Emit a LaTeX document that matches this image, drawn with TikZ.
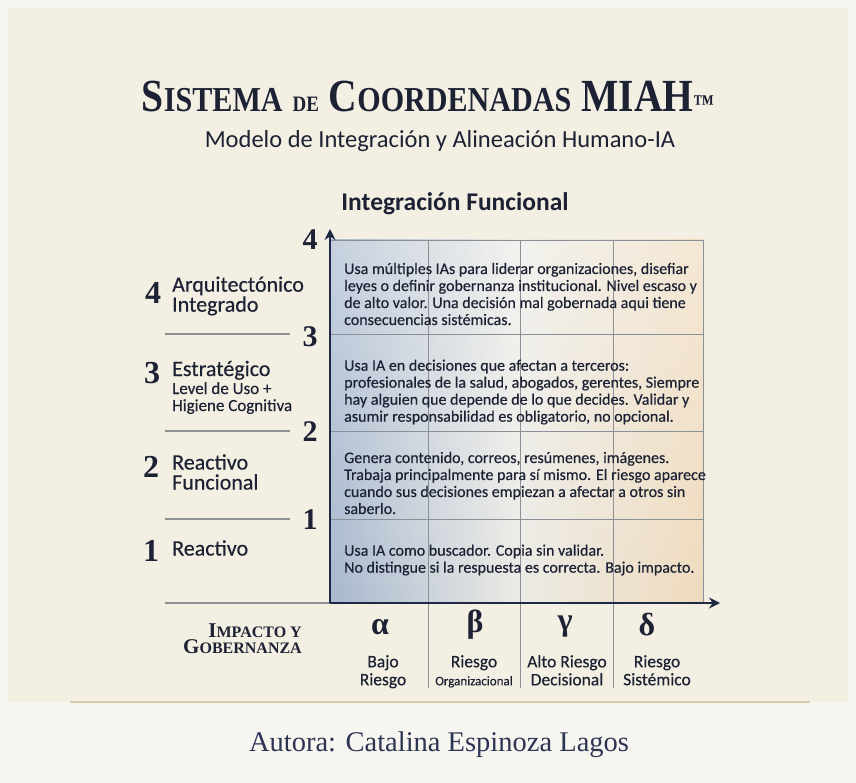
\documentclass[tikz,border=0pt]{standalone}
\usepackage{fontspec}
\setmainfont{Liberation Serif}
\newfontfamily\titleserif[FakeStretch=0.86]{Liberation Serif}
\newfontfamily\sansfont{Carlito}
\newfontfamily\cellfont[FakeBold=0.4]{Carlito}
\usetikzlibrary{arrows.meta,fadings}

\definecolor{paper}{HTML}{F4EFE3}
\definecolor{footpaper}{HTML}{F7F5F0}
\definecolor{ink}{HTML}{1C2233}
\definecolor{axisblue}{HTML}{1E2A45}
\definecolor{rulegray}{HTML}{8E9096}
\definecolor{gridgray}{HTML}{8A8F98}
\definecolor{gridblue}{HTML}{A8B8CE}
\definecolor{gridmid}{HTML}{ECEBE6}
\definecolor{gridpeach}{HTML}{EFDBBD}
\definecolor{footline}{HTML}{D5C9AE}
\definecolor{footink}{HTML}{2D3553}

\newcommand{\capword}[2]{{\fontsize{46}{46}\selectfont #1}{\fontsize{35}{35}\selectfont #2}}

\tikzset{
  levelnum/.style={font=\bfseries\fontsize{32}{32}\selectfont, text=ink, inner sep=0pt},
  axisnum/.style={font=\bfseries\fontsize{30}{30}\selectfont, text=ink, inner sep=0pt},
  levelname/.style={font=\cellfont\fontsize{22}{20}\selectfont, text=ink, align=left, anchor=west, inner sep=0pt},
  levelsub/.style={font=\cellfont\fontsize{17}{17}\selectfont, text=ink, align=left, anchor=north west, inner sep=0pt},
  celltext/.style={font=\cellfont\fontsize{16}{17}\selectfont, text=ink, align=left, anchor=west, inner sep=0pt},
  greek/.style={font=\bfseries\fontsize{32}{32}\selectfont, text=ink, inner sep=0pt},
  risk/.style={font=\cellfont\fontsize{17.5}{18}\selectfont, text=ink, align=center, anchor=north, inner sep=0pt},
  sepline/.style={rulegray, line width=1.2pt},
  gridline/.style={gridgray, line width=0.8pt},
  axis/.style={axisblue, line width=2.6pt, -{Stealth[length=11pt,width=11pt]}}
}

\begin{document}
\begin{tikzpicture}[x=1pt,y=-1pt]
                \useasboundingbox (0,0) rectangle (856,783);
                % --------
                % Background
                % --------
                \fill[footpaper] (0,0) rectangle (856,783);
                \fill[paper] (8,8) rectangle (848,702);
                \draw[footline, line width=1.5pt] (70,702) -- (810,702);

                % --------
                % Title
                % --------
                \node[anchor=base, text=ink, inner sep=0pt, font=\titleserif\bfseries\fontsize{46}{46}\selectfont] at (428, 112) (title)
                    {\capword{S}{ISTEMA} {\fontsize{22}{22}\selectfont DE} \capword{C}{OORDENADAS} MIAH{\fontsize{24}{24}\selectfont ™}};
                \node[anchor=base, text=ink, inner sep=0pt, font=\sansfont\fontsize{24.5}{24}\selectfont] at (440, 148) (subtitle)
                    {Modelo de Integración y Alineación Humano-IA};
                \node[anchor=base, text=ink, inner sep=0pt, font=\sansfont\bfseries\fontsize{25.5}{25}\selectfont] at (455, 211) (ytitle)
                    {Integración Funcional};

                % --------
                % Grid
                % --------
                \shade[left color=gridblue, right color=gridpeach, middle color=gridmid] (330,240) rectangle (703,603);
                \fill[white, opacity=0.35, path fading=south] (330,240) rectangle (703,603);
                \draw[gridline] (330,240) rectangle (703,603);
                \foreach \yy in {334, 431, 519}
                    \draw[gridline] (330,\yy) -- (703,\yy);
                \foreach \xx in {428, 520, 613}
                    \draw[gridline] (\xx,240) -- (\xx,603);

                % separators under the axis
                \foreach \xx in {428, 520, 613}
                    \draw[rulegray, line width=0.8pt] (\xx,603) -- (\xx,688);

                % left level rules
                \foreach \yy in {334, 431, 519}
                    \draw[sepline] (165,\yy) -- (290,\yy);
                \draw[sepline] (165,603) -- (330,603);

                % --------
                % Axes
                % --------
                \coordinate (origin) at (330, 603);
                \coordinate (ytop) at (330, 229);
                \coordinate (xend) at (720, 603);
                \draw[axis] (origin) -- (ytop);
                \draw[axis] (origin) -- (xend);

                \node[axisnum] at (310, 240) (ax4) {4};
                \node[axisnum] at (310, 337) (ax3) {3};
                \node[axisnum] at (310, 432) (ax2) {2};
                \node[axisnum] at (310, 520) (ax1) {1};

                % --------
                % Levels
                % --------
                \node[levelnum] at (153, 293) (num4) {4};
                \node[levelname] at (172, 296) (lvl4) {Arquitectónico\\Integrado};
                \node[levelnum] at (152, 373) (num3) {3};
                \node[levelname, anchor=base west] at (172, 376) (lvl3) {Estratégico};
                \node[levelsub] at (172, 382) (lvl3sub) {Level de Uso +\\Higiene Cognitiva};
                \node[levelnum] at (151, 467) (num2) {2};
                \node[levelname] at (172, 472) (lvl2) {Reactivo\\Funcional};
                \node[levelnum] at (151, 551) (num1) {1};
                \node[levelname] at (172, 548) (lvl1) {Reactivo};

                % --------
                % Cells
                % --------
                \node[celltext] at (344, 294) (cell4)
                    {Usa múltiples IAs para liderar organizaciones, disefiar\\leyes o definir gobernanza institucional. Nivel escaso y\\de alto valor. Una decisión mal gobernada aqui tiene\\consecuencias sistémicas.};
                \node[celltext] at (344, 392) (cell3)
                    {Usa IA en decisiones que afectan a terceros:\\profesionales de la salud, abogados, gerentes, Siempre\\hay alguien que depende de lo que decides. Validar y\\asumir responsabilidad es obligatorio, no opcional.};
                \node[celltext] at (344, 483) (cell2)
                    {Genera contenido, correos, resúmenes, imágenes.\\Trabaja principalmente para sí mismo. El riesgo aparece\\cuando sus decisiones empiezan a afectar a otros sin\\saberlo.};
                \node[celltext] at (344, 560) (cell1)
                    {Usa IA como buscador. Copia sin validar.\\No distingue si la respuesta es correcta. Bajo impacto.};

                % --------
                % Impact axis
                % --------
                \node[anchor=east, align=right, text=ink, inner sep=0pt, font=\bfseries] at (302, 639) (impact)
                    {{\fontsize{21}{21}\selectfont I}{\fontsize{16}{16}\selectfont MPACTO Y}\\[1pt]{\fontsize{21}{21}\selectfont G}{\fontsize{16}{16}\selectfont OBERNANZA}};

                \node[greek] at (380, 627) (alpha) {α};
                \node[greek] at (475, 625) (beta) {β};
                \node[greek] at (565, 627) (gamma) {γ};
                \node[greek] at (647, 625) (delta) {δ};

                \node[risk] at (383, 655) (riskA) {Bajo\\Riesgo};
                \node[risk] at (474, 655) (riskB) {Riesgo\\{\fontsize{13}{14}\selectfont Organizacional}};
                \node[risk] at (567, 655) (riskC) {Alto Riesgo\\Decisional};
                \node[risk] at (657, 655) (riskD) {Riesgo\\Sistémico};

                % --------
                % Footer
                % --------
                \node[text=footink, inner sep=0pt, font=\fontsize{28.5}{28}\selectfont] at (439, 745) (author)
                    {Autora: Catalina Espinoza Lagos};
\end{tikzpicture}
\end{document}
